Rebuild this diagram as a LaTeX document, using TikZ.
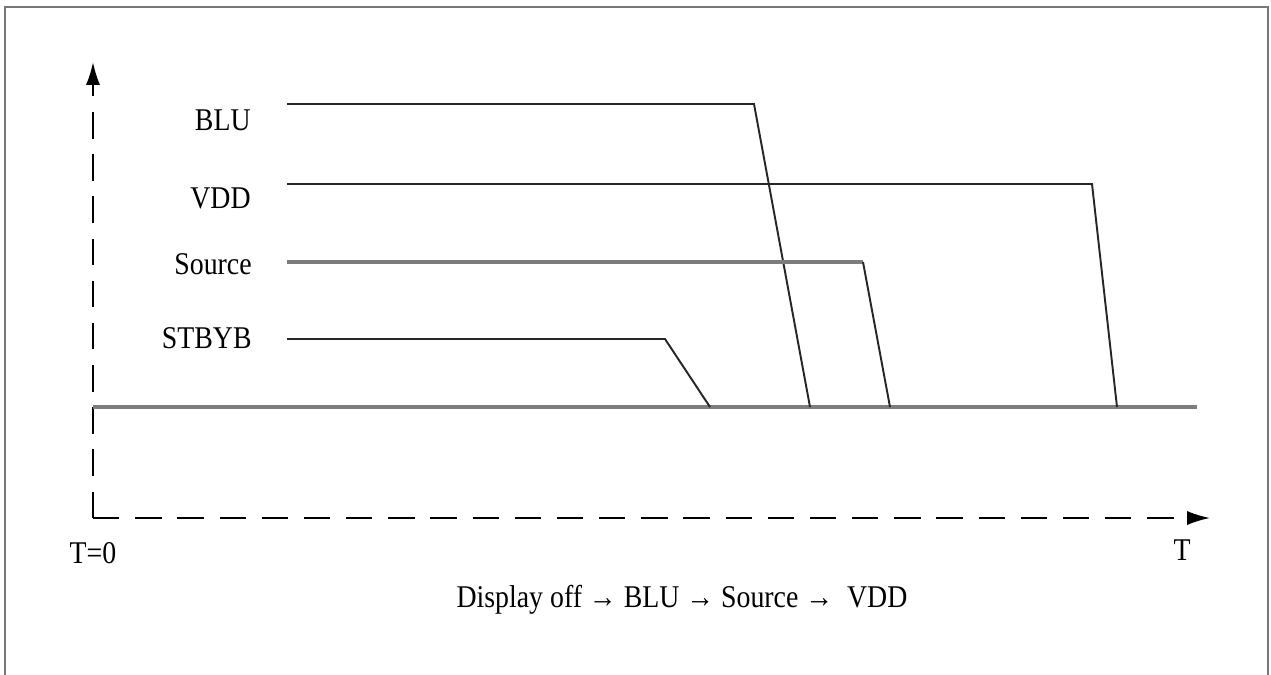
\documentclass[tikz,border=0pt]{standalone}
\usepackage{fontspec}
\setmainfont{Liberation Serif}
\usetikzlibrary{arrows.meta}
\definecolor{framegray}{RGB}{120,120,120}
\definecolor{railgray}{RGB}{125,125,125}
\newcommand{\sqz}[1]{\scalebox{0.88}[1]{#1}}
\tikzset{
    sig/.style={line width=1.1pt, black!85},
    rail/.style={line width=1.8pt, railgray},
    axis/.style={line width=1.1pt, dash pattern=on 15pt off 9pt, -{Latex[length=13pt,width=8pt]}},
    lbl/.style={font=\fontsize{18}{21}\selectfont, inner sep=0pt}
}
\begin{document}
\begin{tikzpicture}[x=0.02cm, y=-0.02cm]
                \useasboundingbox (0,0) rectangle (1271,674);
                \draw[framegray, line width=1.6pt] (5,680)--(5,7)--(1268,7)--(1268,680);
                \coordinate (O) at (93,518);
                \coordinate (ytop) at (93,62);
                \coordinate (xend) at (1210,518);
                \draw[axis] (O)--(ytop);
                \draw[axis] (O)--(xend);
                \coordinate (g0) at (93,407);
                \coordinate (g1) at (1197,407);
                \draw[rail] (g0)--(g1);
                \node[lbl, anchor=east] (blu) at (251,120) {\sqz{BLU}};
                \node[lbl, anchor=east] (vdd) at (251,198) {\sqz{VDD}};
                \node[lbl, anchor=east] (src) at (252,264) {\sqz{Source}};
                \node[lbl, anchor=east] (stb) at (252,338) {\sqz{STBYB}};
                \draw[sig] (287,104)--(754,104)--(810,407);
                \draw[sig] (287,184)--(1092,184)--(1117,407);
                \draw[rail] (287,262)--(863,262);
                \draw[sig] (863,262)--(890,407);
                \draw[sig] (287,339)--(665,339)--(710,407);
                \node[lbl] (t0) at (93,553) {\sqz{T=0}};
                \node[lbl] (tt) at (1182,550) {\sqz{T}};
                \node[lbl] (cap) at (682,600) {\sqz{Display off → BLU → Source →~ VDD}};
            \end{tikzpicture}
\end{document}
